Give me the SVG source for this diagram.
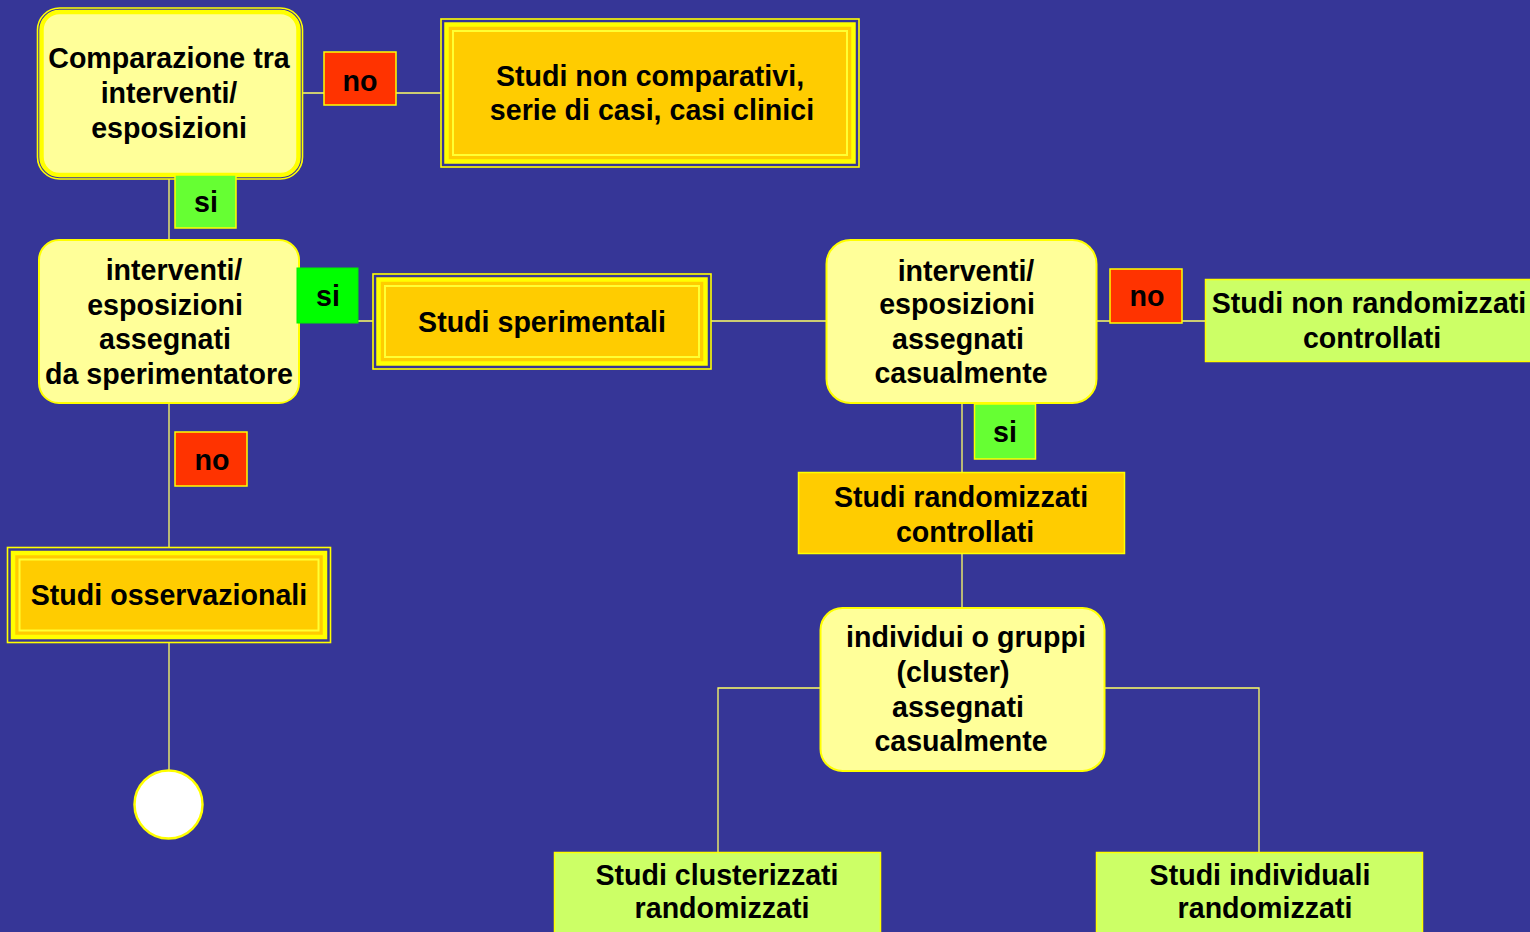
<svg xmlns="http://www.w3.org/2000/svg" width="1530" height="932" viewBox="0 0 1530 932">
<defs>
<style>
.t{font-family:"Liberation Sans",Arial,sans-serif;font-weight:bold;font-size:28.6px;fill:#000;text-anchor:middle}
.ln{stroke:#FFFF66;stroke-width:1.3;fill:none}
.ry{fill:#FFFF99;stroke:#FFFF00;stroke-width:2}
.fo{fill:none;stroke:#FFFF00;stroke-width:1.6}
.fm{fill:#FFCC00;stroke:#FFFF00;stroke-width:4.5}
.fi{fill:none;stroke:#FFFF33;stroke-width:2}
.no{fill:#FF3300;stroke:#FFFF00;stroke-width:1.5}
.si{fill:#66FF33;stroke:#FFFF00;stroke-width:1.5}
.lg{fill:#CCFF66;stroke:#FFFF00;stroke-width:1.5}
.or{fill:#FFCC00;stroke:#FFFF00;stroke-width:1.5}
</style>
</defs>
<rect x="0" y="0" width="1530" height="932" fill="#363697"/>
<g id="connectors">
<line class="ln" x1="302" y1="93" x2="441" y2="93"/>
<line class="ln" x1="169" y1="179" x2="169" y2="240"/>
<line class="ln" x1="299" y1="321" x2="373" y2="321"/>
<line class="ln" x1="711" y1="321" x2="827" y2="321"/>
<line class="ln" x1="169" y1="403" x2="169" y2="547"/>
<line class="ln" x1="169" y1="643" x2="169" y2="770"/>
<line class="ln" x1="1097" y1="321" x2="1205" y2="321"/>
<line class="ln" x1="962" y1="403" x2="962" y2="472"/>
<line class="ln" x1="962" y1="554" x2="962" y2="608"/>
<polyline class="ln" points="820,688 718,688 718,852"/>
<polyline class="ln" points="1104,688 1259,688 1259,852"/>
</g>
<g id="n-comparazione">
<rect x="37.5" y="8" width="265" height="171" rx="22" fill="none" stroke="#FFFF00" stroke-width="1.6"/>
<rect x="41.5" y="12" width="257" height="163" rx="18" fill="#FFFF99" stroke="#FFFF00" stroke-width="4.5"/>
<text class="t" x="169" y="68">Comparazione tra</text>
<text class="t" x="169" y="103">interventi/</text>
<text class="t" x="169" y="138">esposizioni</text>
</g>
<g id="n-noncomparativi">
<rect class="fo" x="441" y="19" width="418" height="148"/>
<rect class="fm" x="446.5" y="24.5" width="407" height="137"/>
<rect class="fi" x="453" y="31" width="394" height="124"/>
<text class="t" x="650" y="86">Studi non comparativi,</text>
<text class="t" x="652" y="120">serie di casi, casi clinici</text>
</g>
<g id="n-sperimentatore">
<rect class="ry" x="39" y="240" width="260" height="163" rx="20"/>
<text class="t" x="174" y="280">interventi/</text>
<text class="t" x="165" y="315">esposizioni</text>
<text class="t" x="165" y="349">assegnati</text>
<text class="t" x="169" y="384">da sperimentatore</text>
</g>
<g id="n-sperimentali">
<rect class="fo" x="373" y="274" width="338" height="95"/>
<rect class="fm" x="378.5" y="279.5" width="327" height="84"/>
<rect class="fi" x="385" y="286" width="314" height="71"/>
<text class="t" x="542" y="332">Studi sperimentali</text>
</g>
<g id="n-osservazionali">
<rect class="fo" x="7.5" y="547.5" width="323" height="95"/>
<rect class="fm" x="13" y="553" width="312" height="84"/>
<rect class="fi" x="19.5" y="559.5" width="299" height="71"/>
<text class="t" x="169" y="605">Studi osservazionali</text>
</g>
<g id="n-end">
<circle cx="168.5" cy="804.5" r="34" fill="#FFFFFF" stroke="#FFFF00" stroke-width="2.5"/>
</g>
<g id="n-casualmente">
<rect class="ry" x="826.5" y="240" width="270" height="163" rx="24"/>
<text class="t" x="966" y="281">interventi/</text>
<text class="t" x="957" y="314">esposizioni</text>
<text class="t" x="958" y="349">assegnati</text>
<text class="t" x="961" y="383">casualmente</text>
</g>
<g id="n-nonrandomizzati">
<rect class="lg" x="1205.5" y="279.5" width="330" height="82"/>
<text class="t" x="1369" y="313">Studi non randomizzati</text>
<text class="t" x="1372" y="348">controllati</text>
</g>
<g id="n-rct">
<rect class="or" x="798.5" y="472.5" width="326" height="81"/>
<text class="t" x="961" y="507">Studi randomizzati</text>
<text class="t" x="965" y="542">controllati</text>
</g>
<g id="n-cluster">
<rect class="ry" x="820.5" y="608" width="284" height="163" rx="22"/>
<text class="t" x="966" y="647">individui o gruppi</text>
<text class="t" x="953" y="682">(cluster)</text>
<text class="t" x="958" y="717">assegnati</text>
<text class="t" x="961" y="751">casualmente</text>
</g>
<g id="n-clusterizzati">
<rect class="lg" x="554.5" y="852.5" width="326" height="100"/>
<text class="t" x="717" y="885">Studi clusterizzati</text>
<text class="t" x="722" y="918">randomizzati</text>
</g>
<g id="n-individuali">
<rect class="lg" x="1096.5" y="852.5" width="326" height="100"/>
<text class="t" x="1260" y="885">Studi individuali</text>
<text class="t" x="1265" y="918">randomizzati</text>
</g>
<g id="labels">
<rect class="no" x="324" y="52" width="72" height="53"/>
<text class="t" x="360" y="91">no</text>
<rect class="si" x="175" y="175" width="61" height="53"/>
<text class="t" x="206" y="212">si</text>
<rect x="297" y="268" width="61" height="55" fill="#00FF00" stroke="#00EE00" stroke-width="1"/>
<text class="t" x="328" y="306">si</text>
<rect class="no" x="175" y="432" width="72" height="54"/>
<text class="t" x="212" y="470">no</text>
<rect class="no" x="1110" y="269" width="72" height="54"/>
<text class="t" x="1147" y="306">no</text>
<rect class="si" x="974.5" y="404" width="61" height="55"/>
<text class="t" x="1005" y="442">si</text>
</g>
</svg>
